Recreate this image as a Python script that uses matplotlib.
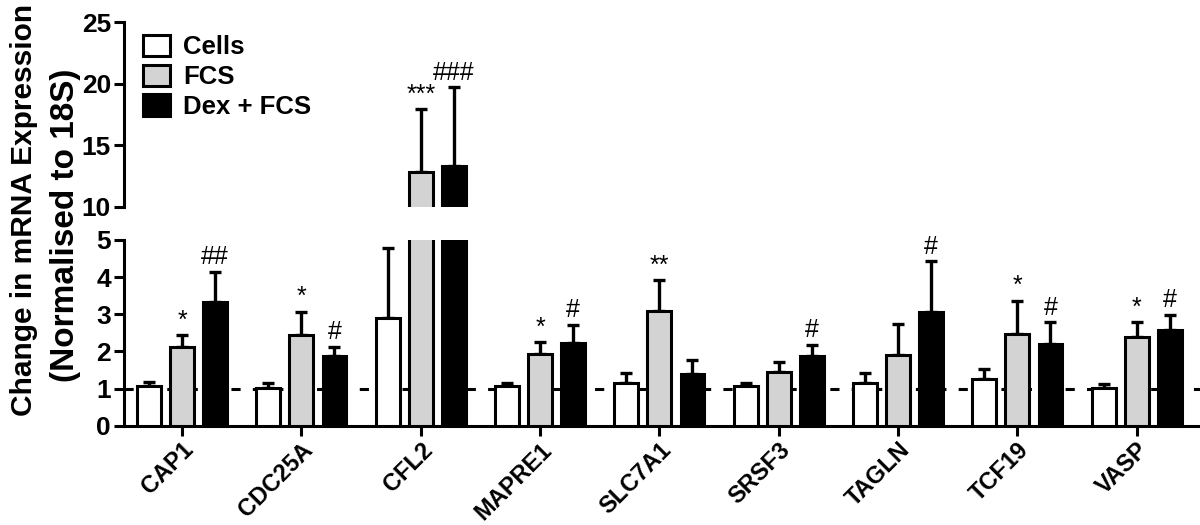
import matplotlib
matplotlib.use('Agg')
import matplotlib.pyplot as plt
import numpy as np

plt.rcParams.update({
    'font.family': ['Liberation Sans', 'DejaVu Sans'],
    'font.size': 18,
    'font.weight': 'bold',
    'axes.linewidth': 2.2,
})

genes = ['CAP1', 'CDC25A', 'CFL2', 'MAPRE1', 'SLC7A1', 'SRSF3', 'TAGLN', 'TCF19', 'VASP']
cells = [1.08, 1.02, 2.9, 1.06, 1.16, 1.06, 1.16, 1.26, 1.01]
cells_err = [0.09, 0.13, 1.88, 0.09, 0.27, 0.10, 0.27, 0.26, 0.11]
fcs = [2.13, 2.45, 12.86, 1.93, 3.09, 1.44, 1.91, 2.47, 2.40]
fcs_err = [0.30, 0.62, 5.06, 0.32, 0.82, 0.27, 0.83, 0.89, 0.38]
dex = [3.34, 1.88, 13.3, 2.24, 1.39, 1.88, 3.06, 2.20, 2.58]
dex_err = [0.81, 0.25, 6.4, 0.48, 0.38, 0.30, 1.36, 0.58, 0.40]
fcs_marks = ['*', '*', '***', '*', '**', '', '', '*', '*']
dex_marks = ['##', '#', '###', '#', '', '#', '#', '#', '#']

series = [('Cells', cells, cells_err, 'white', []),
          ('FCS', fcs, fcs_err, '#d3d3d3', fcs_marks),
          ('Dex + FCS', dex, dex_err, 'black', dex_marks)]

fig = plt.figure(figsize=(12, 5.25), dpi=100)
ax_lo = fig.add_axes([0.103, 0.189, 0.897, 0.354])
ax_hi = fig.add_axes([0.103, 0.606, 0.897, 0.352])

x = np.arange(len(genes))
w = 0.2
step = 0.277

for ax in (ax_lo, ax_hi):
    ylo, yhi = (0, 5) if ax is ax_lo else (10, 25)
    for i, (name, vals, errs, col, marks) in enumerate(series):
        pos = x + (i - 1) * step
        ax.bar(pos, vals, w, color=col, edgecolor='black', linewidth=2.2, label=name, zorder=3)
        ax.errorbar(pos, vals, yerr=[np.zeros(len(vals)), errs], fmt='none', ecolor='black',
                    elinewidth=2.4, capsize=4.5, capthick=2.4, zorder=2)
        for p, v, e, m in zip(pos, vals, errs, marks):
            top = v + e
            if m and ylo <= top <= yhi:
                ax.annotate(m, xy=(p, top), xytext=(0, 2), textcoords='offset points',
                            ha='center', va='bottom', fontsize=18, fontweight='normal')
    ax.set_xlim(-0.49, 8.53)
    ax.spines['top'].set_visible(False)
    ax.spines['right'].set_visible(False)
    ax.tick_params(width=2.2, length=7, labelsize=19, pad=2)

ax_lo.axhline(1, color='black', linestyle=(0, (3, 4)), linewidth=2.2, zorder=1)
ax_lo.set_ylim(0, 5)
ax_lo.set_yticks([0, 1, 2, 3, 4, 5])
ax_lo.set_xticks(x)
ax_lo.set_xticklabels(genes, rotation=45, ha='right', rotation_mode='anchor', fontsize=17)

ax_hi.set_ylim(10, 25)
ax_hi.set_yticks([10, 15, 20, 25])
ax_hi.spines['bottom'].set_visible(False)
ax_hi.set_xticks([])

ax_hi.legend(loc='upper left', bbox_to_anchor=(0.0065, 1.0), frameon=False, fontsize=18.5,
             borderpad=0, handlelength=1.05, handleheight=0.9, handletextpad=0.5,
             labelspacing=0.2)

fig.text(0.02, 0.6, 'Change in mRNA Expression', rotation=90,
         ha='center', va='center', fontsize=21.5, fontweight='bold')
fig.text(0.055, 0.571, '(Normalised to 18S)', rotation=90,
         ha='center', va='center', fontsize=24, fontweight='bold')

fig.savefig('out.png', dpi=100)
